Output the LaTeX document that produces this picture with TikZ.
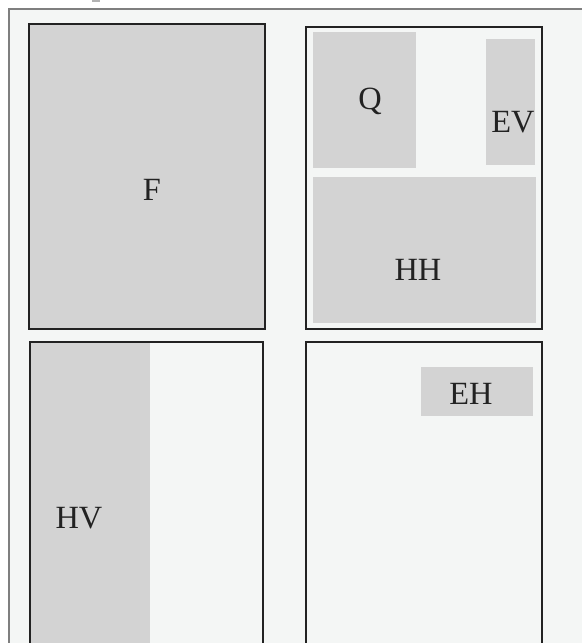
\documentclass[tikz,border=0pt]{standalone}
\usepackage{fontspec}
\setmainfont{Liberation Serif}
\definecolor{pagebg}{HTML}{F4F6F5}
\definecolor{cellgray}{HTML}{D3D3D3}
\definecolor{framegray}{HTML}{7F7F7F}
\definecolor{inkdark}{HTML}{222222}

\begin{document}
\begin{tikzpicture}[x=0.5pt, y=-0.5pt,
  panel/.style={draw=inkdark, line width=0.6pt},
  cell/.style={fill=cellgray},
  lbl/.style={font=\fontsize{16.2}{19}\selectfont, text=inkdark, inner sep=0pt}]
\useasboundingbox (0,0) rectangle (582,643);

% Page frame
\fill[pagebg] (9,9) rectangle (582,643);
\draw[framegray, line width=1pt] (9,643) -- (9,9) -- (582,9);
\fill[framegray!60] (92,0) rectangle (100,1.5);

% Top left panel
\filldraw[cell, panel] (29,24) rectangle (265,329);
\node[lbl] (F) at (152,190) {F};

% Top right panel
\draw[panel] (306,27) rectangle (542,329);
\fill[cell] (313,32) rectangle (416,168);
\fill[cell] (486,39) rectangle (535,165);
\fill[cell] (313,177) rectangle (536,323);
\node[lbl] (Q) at (370,101) {Q};
\node[lbl] (EV) at (513,122) {EV};
\node[lbl] (HH) at (418,270) {HH};

% Bottom left panel
\fill[cell] (31,343) rectangle (150,643);
\draw[panel] (30,643) -- (30,342) -- (263,342) -- (263,643);
\node[lbl] (HV) at (79,518) {HV};

% Bottom right panel
\draw[panel] (306,643) -- (306,342) -- (542,342) -- (542,643);
\fill[cell] (421,367) rectangle (533,416);
\node[lbl] (EH) at (471,394) {EH};
\end{tikzpicture}
\end{document}
